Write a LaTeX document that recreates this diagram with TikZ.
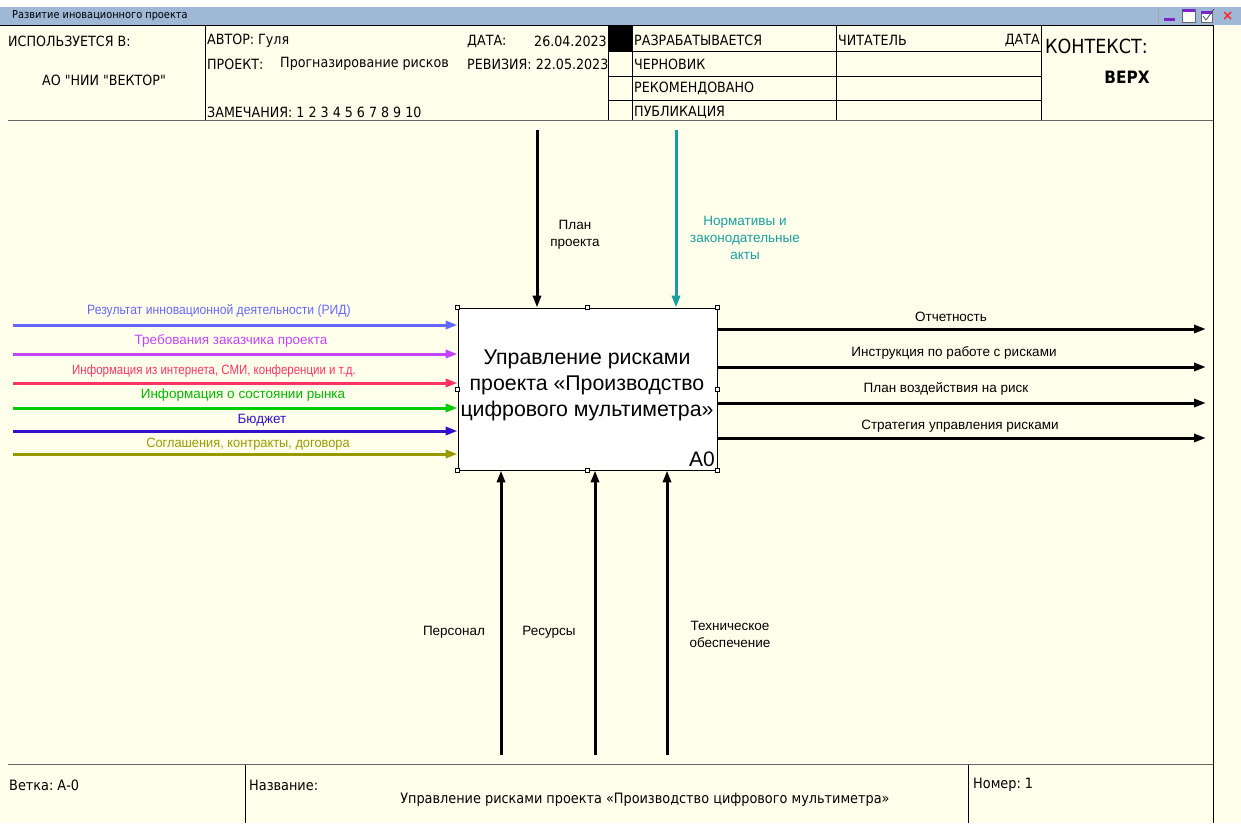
\documentclass[tikz,border=0pt]{standalone}
\usepackage{fontspec}
\setmainfont{Liberation Sans}
\newfontfamily\tahoma{DejaVu Sans Condensed}
\frenchspacing
\usetikzlibrary{arrows.meta}
\definecolor{cream}{RGB}{255,255,236}
\definecolor{barblue}{RGB}{158,184,214}
\definecolor{cA}{RGB}{102,102,255}
\definecolor{cB}{RGB}{196,68,255}
\definecolor{cC}{RGB}{255,51,102}
\definecolor{cD}{RGB}{0,204,0}
\definecolor{cE}{RGB}{51,17,204}
\definecolor{cF}{RGB}{153,153,0}
\definecolor{cTeal}{RGB}{26,158,158}
\definecolor{iconpurple}{RGB}{120,40,200}
\tikzset{
  x=1pt, y=-1pt,
  arr/.style={line width=3pt, -{Triangle[length=12pt,width=8pt]}},
  lbl/.style={font=\fontsize{13.5}{17}\selectfont, inner sep=0pt, align=center},
  hdr/.style={font=\tahoma\fontsize{14.1}{16}\selectfont, inner sep=0pt, anchor=west},
  ftr/.style={font=\tahoma\fontsize{14.3}{16}\selectfont, inner sep=0pt},
  frameline/.style={line width=1pt, black},
  handle/.style={draw=black, fill=white, line width=0.5pt, minimum size=4pt, inner sep=0pt},
}
\begin{document}
\begin{tikzpicture}
\useasboundingbox (0,0) rectangle (1241,823);
% backgrounds
\fill[white] (0,0) rectangle (1241,7);
\fill[cream] (0,25) rectangle (1241,823);
\fill[barblue] (0,7) rectangle (1241,25);
\node[font=\tahoma\fontsize{10.9}{12}\selectfont, anchor=west, inner sep=0pt] (wtitle) at (12,15.5) {Развитие иновационного проекта};
\draw[gray!70, line width=0.6pt] (1158,8) -- (1158,24);
% window icons
\fill[iconpurple] (1164,18) rectangle (1175,21);
\draw[black!60, fill=white, line width=0.6pt] (1182,9) rectangle (1195,22);
\fill[iconpurple] (1182,9) rectangle (1195,12);
\draw[black!60, fill=white, line width=0.6pt] (1201,11) rectangle (1212,22);
\fill[iconpurple] (1201,11) rectangle (1212,13.5);
\draw[black!70, line width=0.8pt] (1203,16) -- (1206,20) -- (1214,9);
\draw[red!85!white, line width=1.4pt] (1224,12) -- (1231,19) (1231,12) -- (1224,19);
% header frame
\draw[frameline] (0,25) -- (1213,25);
\draw[black!60, line width=1.2pt] (8,120.5) -- (1213,120.5);
\draw[frameline] (1213,25) -- (1213,823);
\draw[line width=0.8pt] (205,25) -- (205,120);
\draw[line width=0.8pt] (608,25) -- (608,120);
\draw[line width=0.8pt] (632,25) -- (632,120);
\draw[line width=0.8pt] (836,25) -- (836,120);
\draw[line width=0.8pt] (1041,25) -- (1041,120);
\draw[line width=0.8pt] (608,51) -- (1041,51);
\draw[line width=0.8pt] (608,76) -- (1041,76);
\draw[line width=0.8pt] (608,100) -- (1041,100);
\fill[black] (609,25.5) rectangle (632,51);
% header texts
\node[hdr] (usedin) at (8,41) {ИСПОЛЬЗУЕТСЯ В:};
\node[hdr, anchor=center] (org) at (104,80) {АО "НИИ "ВЕКТОР"};
\node[hdr] (author) at (207,41) {АВТОР: Гуля};
\node[hdr] (date) at (467,41) {ДАТА:};
\node[hdr, anchor=east] (dateval) at (607,41) {26.04.2023};
\node[hdr] (project) at (207,64) {ПРОЕКТ:};
\node[hdr] (projval) at (280,64) {Прогназирование рисков};
\node[hdr] (rev) at (467,64) {РЕВИЗИЯ: 22.05.2023};
\node[hdr] (notes) at (207,112) {ЗАМЕЧАНИЯ: 1 2 3 4 5 6 7 8 9 10};
\node[hdr] (st1) at (634,40) {РАЗРАБАТЫВАЕТСЯ};
\node[hdr] (st2) at (634,64) {ЧЕРНОВИК};
\node[hdr] (st3) at (634,88) {РЕКОМЕНДОВАНО};
\node[hdr] (st4) at (634,112) {ПУБЛИКАЦИЯ};
\node[hdr] (reader) at (838,40) {ЧИТАТЕЛЬ};
\node[hdr, anchor=east] (rdate) at (1040,40) {ДАТА};
\node[font=\tahoma\fontsize{19.5}{21}\selectfont, inner sep=0pt, anchor=west] (ctx) at (1045,46) {КОНТЕКСТ:};
\node[font=\tahoma\fontsize{17}{19}\selectfont\bfseries, inner sep=0pt] (top) at (1127,77) {ВЕРХ};
% footer
\draw[black!60, line width=1.2pt] (8,764.5) -- (1213,764.5);
\draw[line width=0.8pt] (245,765) -- (245,823);
\draw[line width=0.8pt] (968,765) -- (968,823);
\node[ftr, anchor=west] (branch) at (9,785) {Ветка: А-0};
\node[ftr, anchor=west] (namel) at (249,785) {Название:};
\node[ftr] (nameval) at (645,800) {Управление рисками проекта «Производство цифрового мультиметра»};
\node[ftr, anchor=west] (num) at (973,785) {Номер: 1};
% main box
\node[draw=black, fill=white, line width=0.8pt, minimum width=259pt, minimum height=162pt, inner sep=0pt] (box) at (587.5,389) {};
\node[font=\fontsize{21.3}{26}\selectfont, align=center, inner sep=0pt] (boxtxt) at (587,385) {Управление рисками\\проекта «Производство\\цифрового мультиметра»};
\node[font=\fontsize{21}{22}\selectfont, anchor=south east, inner sep=0pt] (a0) at (715,467) {A0};
\foreach \p in {north west, north, north east, west, east, south west, south, south east}
  \node[handle] at (box.\p) {};
% inputs
\coordinate (i1) at (13,325);
\coordinate (i2) at (13,354);
\coordinate (i3) at (13,383);
\coordinate (i4) at (13,408);
\coordinate (i5) at (13,431);
\coordinate (i6) at (13,454);
\draw[arr, cA] (i1) -- (i1 -| box.west);
\draw[arr, cB] (i2) -- (i2 -| box.west);
\draw[arr, cC] (i3) -- (i3 -| box.west);
\draw[arr, cD] (i4) -- (i4 -| box.west);
\draw[arr, cE] (i5) -- (i5 -| box.west);
\draw[arr, cF] (i6) -- (i6 -| box.west);
\node[lbl, text=cA] (li1) at (219,311) {\scalebox{0.9}[1]{Результат инновационной деятельности (РИД)}};
\node[lbl, text=cB] (li2) at (231,341) {Требования заказчика проекта};
\node[lbl, text=cC] (li3) at (214,371) {\scalebox{0.85}[1]{Информация из интернета, СМИ, конференции и т.д.}};
\node[lbl, text=cD!90!black] (li4) at (243,395) {Информация о состоянии рынка};
\node[lbl, text=cE] (li5) at (262,420) {Бюджет};
\node[lbl, text=cF] (li6) at (248,444) {\scalebox{0.95}[1]{Соглашения, контракты, договора}};
% outputs
\coordinate (o1) at (1206,329);
\coordinate (o2) at (1206,367);
\coordinate (o3) at (1206,403);
\coordinate (o4) at (1206,438);
\draw[arr] (o1 -| box.east) -- (o1);
\draw[arr] (o2 -| box.east) -- (o2);
\draw[arr] (o3 -| box.east) -- (o3);
\draw[arr] (o4 -| box.east) -- (o4);
\node[lbl] (lo1) at (951,317) {Отчетность};
\node[lbl] (lo2) at (954,353) {Инструкция по работе с рисками};
\node[lbl] (lo3) at (946,389) {План воздействия на риск};
\node[lbl] (lo4) at (960,426) {Стратегия управления рисками};
% controls
\coordinate (c1) at (537,130);
\coordinate (c2) at (676,130);
\draw[arr] (c1) -- (c1 |- box.north);
\draw[arr, cTeal] (c2) -- (c2 |- box.north);
\node[lbl] (lc1) at (575,235) {План\\проекта};
\node[lbl, text=cTeal] (lc2) at (745,238) {Нормативы и\\законодательные\\акты};
% mechanisms
\coordinate (m1) at (501,755);
\coordinate (m2) at (595,755);
\coordinate (m3) at (667,755);
\draw[arr] (m1) -- (m1 |- box.south);
\draw[arr] (m2) -- (m2 |- box.south);
\draw[arr] (m3) -- (m3 |- box.south);
\node[lbl] (lm1) at (454,632) {Персонал};
\node[lbl] (lm2) at (549,632) {Ресурсы};
\node[lbl] (lm3) at (730,634) {Техническое\\обеспечение};
\end{tikzpicture}
\end{document}
